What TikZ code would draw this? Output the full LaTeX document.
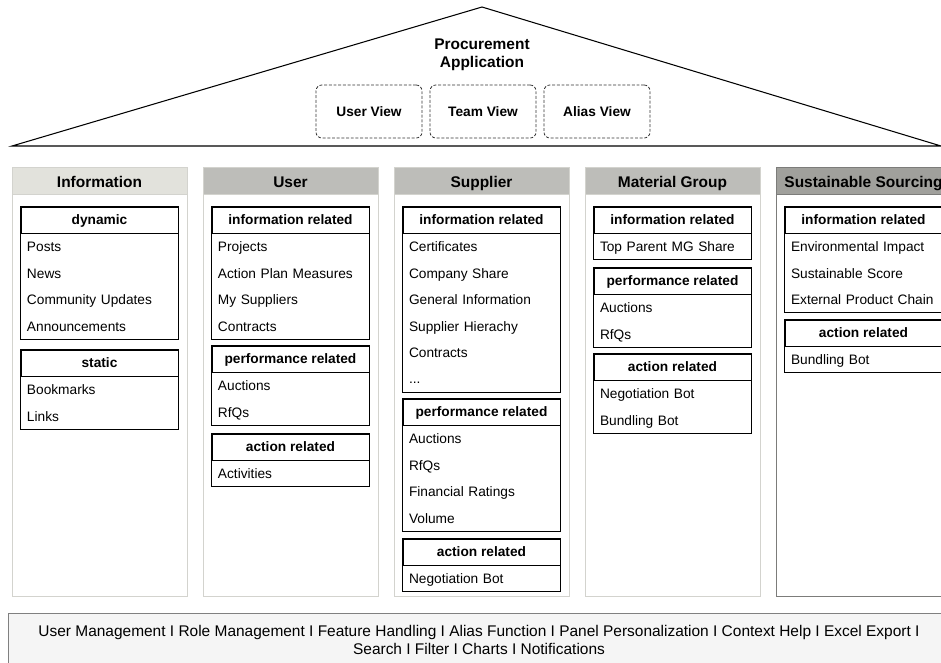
\documentclass[tikz,border=0pt]{standalone}
\usepackage{fontspec}
\setmainfont{Liberation Sans}
\usetikzlibrary{positioning}
\definecolor{infogray}{HTML}{E2E2DC}
\definecolor{colgray}{HTML}{BDBDB9}
\definecolor{sustgray}{HTML}{A0A09C}
\definecolor{framegray}{HTML}{D3D3CE}
\definecolor{sustframe}{HTML}{7C7C7A}
\definecolor{bargray}{HTML}{F5F5F5}

\begin{document}
\begin{tikzpicture}[x=0.03cm, y=-0.03cm,
	colhead/.style={draw=framegray, fill=colgray, minimum width=5.25cm, minimum height=0.81cm, inner sep=0, text height=12pt, text depth=0pt, font=\fontsize{13.2}{15}\selectfont\bfseries},
	grphead/.style={draw, line width=0.75pt, minimum width=4.71cm, minimum height=0.78cm, inner sep=0, text height=8.4pt, text depth=0pt, font=\fontsize{11.7}{14}\selectfont\bfseries},
	item/.style={minimum height=0.78cm, inner xsep=0.18cm, inner ysep=0, text width=4.35cm, align=left, text height=8.4pt, text depth=0pt, font=\fontsize{11.7}{14}\selectfont},
	view/.style={draw=black!80, line width=0.7pt, dash pattern=on 2.5pt off 1.5pt, rounded corners=5pt, minimum width=3.18cm, minimum height=1.59cm, font=\fontsize{11.7}{14}\selectfont\bfseries},
	bar/.style={draw=black!50, fill=bargray, minimum width=28.26cm, minimum height=1.62cm, align=center, font=\fontsize{13.2}{15.3}\selectfont}]
				\useasboundingbox (0,0) rectangle (941,662);
				\clip (0,0) rectangle (941,662);
				% roof
				\coordinate (roofl) at (12,146);
				\coordinate (rooft) at (482,7);
				\coordinate (roofr) at (941,146);
				\draw[line width=0.9pt] (roofl) -- (rooft) -- (roofr) -- cycle;
				\node[align=center, font=\fontsize{13.2}{15.3}\selectfont\bfseries] (app) at (482,55) {Procurement\\Application};
				\node[view] (uview) at (369,111.5) {User View};
				\node[view] (tview) at (483,111.5) {Team View};
				\node[view] (aview) at (597,111.5) {Alias View};
				% columns
				\draw[draw=framegray, fill=white] (12,167) rectangle (187,596);
				\draw[draw=framegray, fill=white] (203,167) rectangle (378,596);
				\draw[draw=framegray, fill=white] (394,167) rectangle (569,596);
				\draw[draw=framegray, fill=white] (585,167) rectangle (760,596);
				\draw[draw=sustframe, fill=white] (776,167) rectangle (951,596);
				\node[colhead, fill=infogray] (info) at (99.5,180.5) {Information};
				\node[colhead] (user) at (290.5,180.5) {User};
				\node[colhead] (supp) at (481.5,180.5) {Supplier};
				\node[colhead] (matg) at (672.5,180.5) {Material Group};
				\node[colhead, draw=sustframe, fill=sustgray] (sust) at (863.5,180.5) {Sustainable Sourcing};
				% Information
				\node[grphead] (dyn) at (99.5,220) {dynamic};
				\node[item, below=0pt of dyn] (dyn1) {Posts};
				\node[item, below=0pt of dyn1] (dyn2) {News};
				\node[item, below=0pt of dyn2] (dyn3) {Community Updates};
				\node[item, below=0pt of dyn3] (dyn4) {Announcements};
				\draw[line width=0.75pt] (dyn.north west) rectangle (dyn4.south east);
				\node[grphead] (stat) at (99.5,363) {static};
				\node[item, below=0pt of stat] (stat1) {Bookmarks};
				\node[item, below=0pt of stat1] (stat2) {Links};
				\draw[line width=0.75pt] (stat.north west) rectangle (stat2.south east);
				% User
				\node[grphead] (uinf) at (290.5,220) {information related};
				\node[item, below=0pt of uinf] (uinf1) {Projects};
				\node[item, below=0pt of uinf1] (uinf2) {Action Plan Measures};
				\node[item, below=0pt of uinf2] (uinf3) {My Suppliers};
				\node[item, below=0pt of uinf3] (uinf4) {Contracts};
				\draw[line width=0.75pt] (uinf.north west) rectangle (uinf4.south east);
				\node[grphead] (uperf) at (290.5,359) {performance related};
				\node[item, below=0pt of uperf] (uperf1) {Auctions};
				\node[item, below=0pt of uperf1] (uperf2) {RfQs};
				\draw[line width=0.75pt] (uperf.north west) rectangle (uperf2.south east);
				\node[grphead] (uact) at (290.5,447) {action related};
				\node[item, below=0pt of uact] (uact1) {Activities};
				\draw[line width=0.75pt] (uact.north west) rectangle (uact1.south east);
				% Supplier
				\node[grphead] (sinf) at (481.5,220) {information related};
				\node[item, below=0pt of sinf] (sinf1) {Certificates};
				\node[item, below=0pt of sinf1] (sinf2) {Company Share};
				\node[item, below=0pt of sinf2] (sinf3) {General Information};
				\node[item, below=0pt of sinf3] (sinf4) {Supplier Hierachy};
				\node[item, below=0pt of sinf4] (sinf5) {Contracts};
				\node[item, below=0pt of sinf5] (sinf6) {...};
				\draw[line width=0.75pt] (sinf.north west) rectangle (sinf6.south east);
				\node[grphead] (sperf) at (481.5,412) {performance related};
				\node[item, below=0pt of sperf] (sperf1) {Auctions};
				\node[item, below=0pt of sperf1] (sperf2) {RfQs};
				\node[item, below=0pt of sperf2] (sperf3) {Financial Ratings};
				\node[item, below=0pt of sperf3] (sperf4) {Volume};
				\draw[line width=0.75pt] (sperf.north west) rectangle (sperf4.south east);
				\node[grphead] (sact) at (481.5,552) {action related};
				\node[item, below=0pt of sact] (sact1) {Negotiation Bot};
				\draw[line width=0.75pt] (sact.north west) rectangle (sact1.south east);
				% Material Group
				\node[grphead] (minf) at (672.5,220) {information related};
				\node[item, below=0pt of minf] (minf1) {Top Parent MG Share};
				\draw[line width=0.75pt] (minf.north west) rectangle (minf1.south east);
				\node[grphead] (mperf) at (672.5,281) {performance related};
				\node[item, below=0pt of mperf] (mperf1) {Auctions};
				\node[item, below=0pt of mperf1] (mperf2) {RfQs};
				\draw[line width=0.75pt] (mperf.north west) rectangle (mperf2.south east);
				\node[grphead] (mact) at (672.5,367) {action related};
				\node[item, below=0pt of mact] (mact1) {Negotiation Bot};
				\node[item, below=0pt of mact1] (mact2) {Bundling Bot};
				\draw[line width=0.75pt] (mact.north west) rectangle (mact2.south east);
				% Sustainable Sourcing
				\node[grphead] (ssinf) at (863.5,220) {information related};
				\node[item, below=0pt of ssinf] (ssinf1) {Environmental Impact};
				\node[item, below=0pt of ssinf1] (ssinf2) {Sustainable Score};
				\node[item, below=0pt of ssinf2] (ssinf3) {External Product Chain};
				\draw[line width=0.75pt] (ssinf.north west) rectangle (ssinf3.south east);
				\node[grphead] (ssact) at (863.5,333) {action related};
				\node[item, below=0pt of ssact] (ssact1) {Bundling Bot};
				\draw[line width=0.75pt] (ssact.north west) rectangle (ssact1.south east);
				% base functions
				\node[bar] (base) at (479,640) {User Management I Role Management I Feature Handling I Alias Function I Panel Personalization I Context Help I Excel Export I\\Search I Filter I Charts I Notifications};
			\end{tikzpicture}
\end{document}
